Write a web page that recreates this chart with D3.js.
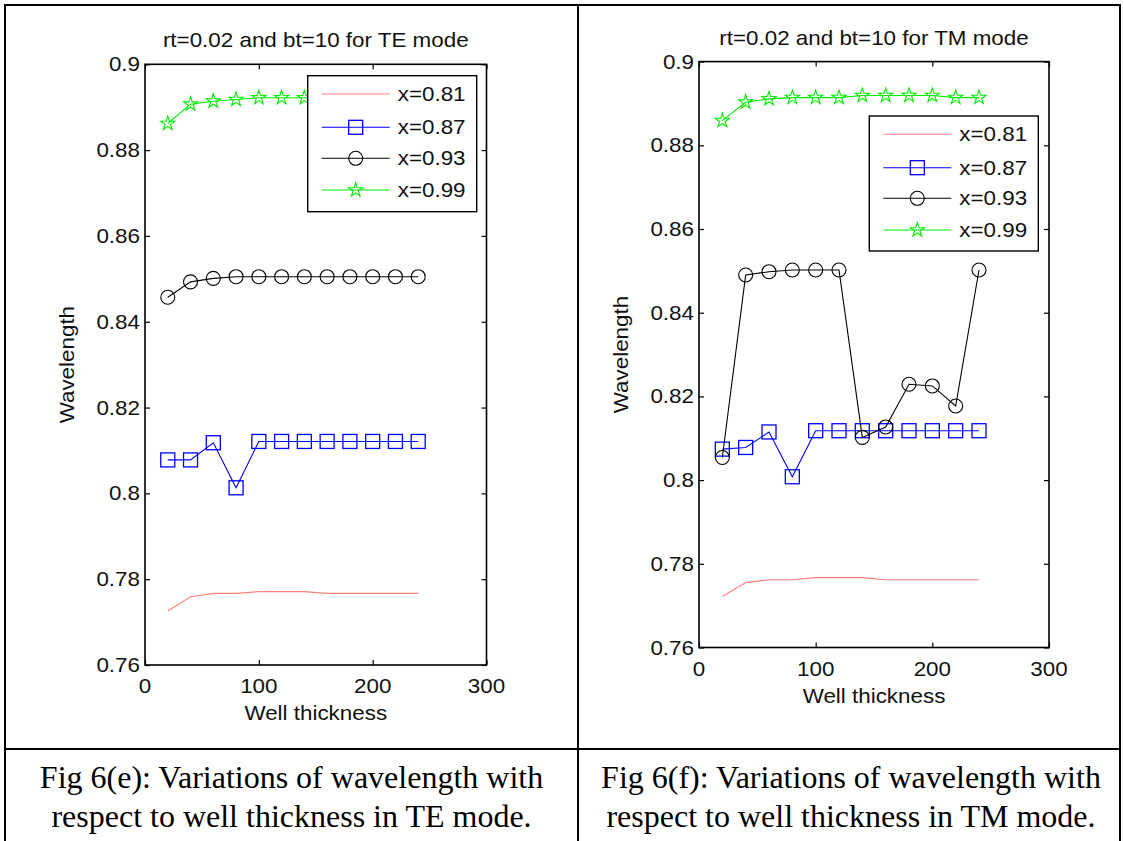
<!DOCTYPE html>
<html>
<head>
<meta charset="utf-8">
<script src="https://cdn.jsdelivr.net/npm/d3@7"></script>
<style>
  html, body { margin: 0; padding: 0; background: #fff; }
  svg { display: block; }
</style>
</head>
<body>
<svg id="fig" width="1124" height="841"></svg>
<script>
// Well thickness sample points
const thickness = [20, 40, 60, 80, 100, 120, 140, 160, 180, 200, 220, 240];

// TE mode (rt=0.02, bt=10)
const teX081 = [0.7726, 0.7759, 0.7767, 0.7767, 0.7771, 0.7771, 0.7771, 0.7767, 0.7767, 0.7767, 0.7767, 0.7767];
const teX087 = [0.8078, 0.8078, 0.8118, 0.8013, 0.8121, 0.8121, 0.8121, 0.8121, 0.8121, 0.8121, 0.8121, 0.8121];
const teX093 = [0.8457, 0.8493, 0.8501, 0.8505, 0.8505, 0.8505, 0.8505, 0.8505, 0.8505, 0.8505, 0.8505, 0.8505];
const teX099 = [0.8862, 0.8907, 0.8914, 0.8918, 0.8922, 0.8922, 0.8922, 0.8924, 0.8924, 0.8924, 0.8922, 0.8922];

// TM mode (rt=0.02, bt=10)
const tmX081 = [0.7722, 0.7755, 0.7762, 0.7762, 0.7767, 0.7767, 0.7767, 0.7762, 0.7762, 0.7762, 0.7762, 0.7762];
const tmX087 = [0.8074, 0.8078, 0.8115, 0.8008, 0.8118, 0.8118, 0.8118, 0.8118, 0.8118, 0.8118, 0.8118, 0.8118];
const tmX093 = [0.8054, 0.8490, 0.8498, 0.8502, 0.8502, 0.8502, 0.8102, 0.8127, 0.8229, 0.8225, 0.8177, 0.8502];
const tmX099 = [0.8859, 0.8903, 0.8911, 0.8914, 0.8914, 0.8914, 0.8919, 0.8919, 0.8919, 0.8919, 0.8914, 0.8914];

const seriesNames = ["x=0.81", "x=0.87", "x=0.93", "x=0.99"];
const xTicks = [0, 100, 200, 300];
const yTicks = [0.76, 0.78, 0.80, 0.82, 0.84, 0.86, 0.88, 0.90];
const yTickLabels = ["0.76", "0.78", "0.8", "0.82", "0.84", "0.86", "0.88", "0.9"];

const titles = ["rt=0.02 and bt=10 for TE mode", "rt=0.02 and bt=10 for TM mode"];
const captions = [
  ["Fig 6(e): Variations of wavelength with", "respect to well thickness in TE mode."],
  ["Fig 6(f): Variations of wavelength with", "respect to well thickness in TM mode."]
];

const styles = [
  { color: "#ff7f7f", marker: null },
  { color: "#0000ff", marker: "square" },
  { color: "#000000", marker: "circle" },
  { color: "#00ee00", marker: "star" }
];

const svg = d3.select("#fig");
const SANS = "'Liberation Sans', Arial, sans-serif";
const SERIF = "'Liberation Serif', 'Times New Roman', serif";
const SX = 1.12; // horizontal stretch of the sans labels
const FS = 20;

function label(g, x, y, str, opt = {}) {
  return g.append("g")
    .attr("transform", `translate(${x},${y})` + (opt.rotate ? ` rotate(${opt.rotate})` : "") + ` scale(${opt.sx || SX},1)`)
    .append("text")
    .attr("font-family", opt.family || SANS)
    .attr("font-size", opt.size || FS)
    .attr("text-anchor", opt.anchor || "middle")
    .attr("dominant-baseline", "central")
    .attr("fill", "#111")
    .text(str);
}

function drawMarker(g, kind, cx, cy, color) {
  if (kind === "square") {
    g.append("rect").attr("x", cx - 7).attr("y", cy - 7).attr("width", 14).attr("height", 14)
      .attr("fill", "none").attr("stroke", color).attr("stroke-width", 1.3);
  } else if (kind === "circle") {
    g.append("circle").attr("cx", cx).attr("cy", cy).attr("r", 7)
      .attr("fill", "none").attr("stroke", color).attr("stroke-width", 1.1);
  } else if (kind === "star") {
    g.append("path").attr("d", d3.symbol(d3.symbolStar).size(62)())
      .attr("transform", `translate(${cx},${cy})`)
      .attr("fill", "none").attr("stroke", color).attr("stroke-width", 1.1);
  }
}

function panel(cfg) {
  const g = svg.append("g");
  const x = d3.scaleLinear().domain([0, 300]).range([cfg.left, cfg.right]);
  const y = d3.scaleLinear().domain([0.76, 0.90]).range([cfg.bottom, cfg.top]);

  // axes box with inward ticks on all sides
  const tickLen = 5;
  g.append("g").attr("transform", `translate(0,${cfg.bottom})`)
    .call(d3.axisBottom(x).tickValues(xTicks).tickSize(-tickLen).tickFormat(""))
    .call(s => s.select(".domain").remove());
  g.append("g").attr("transform", `translate(0,${cfg.top})`)
    .call(d3.axisTop(x).tickValues(xTicks).tickSize(-tickLen).tickFormat(""))
    .call(s => s.select(".domain").remove());
  g.append("g").attr("transform", `translate(${cfg.left},0)`)
    .call(d3.axisLeft(y).tickValues(yTicks).tickSize(-tickLen).tickFormat(""))
    .call(s => s.select(".domain").remove());
  g.append("g").attr("transform", `translate(${cfg.right},0)`)
    .call(d3.axisRight(y).tickValues(yTicks).tickSize(-tickLen).tickFormat(""))
    .call(s => s.select(".domain").remove());
  g.selectAll(".tick line").attr("stroke", "#000").attr("stroke-width", 1.2);

  g.append("rect")
    .attr("x", cfg.left).attr("y", cfg.top)
    .attr("width", cfg.right - cfg.left).attr("height", cfg.bottom - cfg.top)
    .attr("fill", "none").attr("stroke", "#000").attr("stroke-width", 1.6);

  // tick labels
  xTicks.forEach(v => label(g, x(v), cfg.bottom + 21, String(v)));
  yTicks.forEach((v, i) => label(g, cfg.left - 5, y(v), yTickLabels[i], { anchor: "end" }));

  label(g, (cfg.left + cfg.right) / 2, cfg.top - 24, cfg.title);
  label(g, (cfg.left + cfg.right) / 2, cfg.bottom + 48, "Well thickness");
  label(g, cfg.left - 78, (cfg.top + cfg.bottom) / 2, "Wavelength", { rotate: -90 });

  // series
  const line = d3.line().x((d, i) => x(thickness[i])).y(d => y(d));
  cfg.series.forEach((vals, k) => {
    const st = styles[k];
    g.append("path").datum(vals).attr("d", line)
      .attr("fill", "none").attr("stroke", st.color).attr("stroke-width", 1.1);
    if (st.marker) {
      vals.forEach((v, i) => drawMarker(g, st.marker, x(thickness[i]), y(v), st.color));
    }
  });

  // legend
  const L = cfg.legend;
  const lg = g.append("g");
  lg.append("rect").attr("x", L.x0).attr("y", L.y0).attr("width", L.x1 - L.x0).attr("height", L.y1 - L.y0)
    .attr("fill", "#fff").attr("stroke", "#000").attr("stroke-width", 1.4);
  seriesNames.forEach((name, k) => {
    const st = styles[k];
    const yy = L.rows[k];
    lg.append("line").attr("x1", L.x0 + 14).attr("x2", L.x0 + 82).attr("y1", yy).attr("y2", yy)
      .attr("stroke", st.color).attr("stroke-width", 1.1);
    if (st.marker) drawMarker(lg, st.marker, L.x0 + 48, yy, st.color);
    label(lg, L.x0 + 90, yy, name, { anchor: "start" });
  });
}

panel({
  left: 145, right: 486.5, top: 64.3, bottom: 665,
  title: titles[0],
  series: [teX081, teX087, teX093, teX099],
  legend: { x0: 307.7, x1: 476.7, y0: 75.7, y1: 211.7, rows: [94, 127.3, 158.3, 190] }
});

panel({
  left: 699, right: 1049, top: 61.6, bottom: 647.5,
  title: titles[1],
  series: [tmX081, tmX087, tmX093, tmX099],
  legend: { x0: 869.3, x1: 1038.3, y0: 116, y1: 251, rows: [134.3, 167.7, 198.3, 230] }
});

// table frame
const frame = svg.append("g").attr("stroke", "#000").attr("stroke-width", 2).attr("fill", "none");
frame.append("rect").attr("x", 5).attr("y", 5).attr("width", 1115).attr("height", 840);
frame.append("line").attr("x1", 578).attr("x2", 578).attr("y1", 5).attr("y2", 841);
frame.append("line").attr("x1", 5).attr("x2", 1120).attr("y1", 749).attr("y2", 749);

// captions
const capCenters = [291.5, 851];
captions.forEach((lines, c) => {
  lines.forEach((ln, j) => {
    svg.append("text")
      .attr("x", capCenters[c]).attr("y", 788 + j * 39)
      .attr("font-family", SERIF).attr("font-size", 32)
      .attr("text-anchor", "middle").attr("fill", "#000")
      .text(ln);
  });
});
</script>
</body>
</html>
